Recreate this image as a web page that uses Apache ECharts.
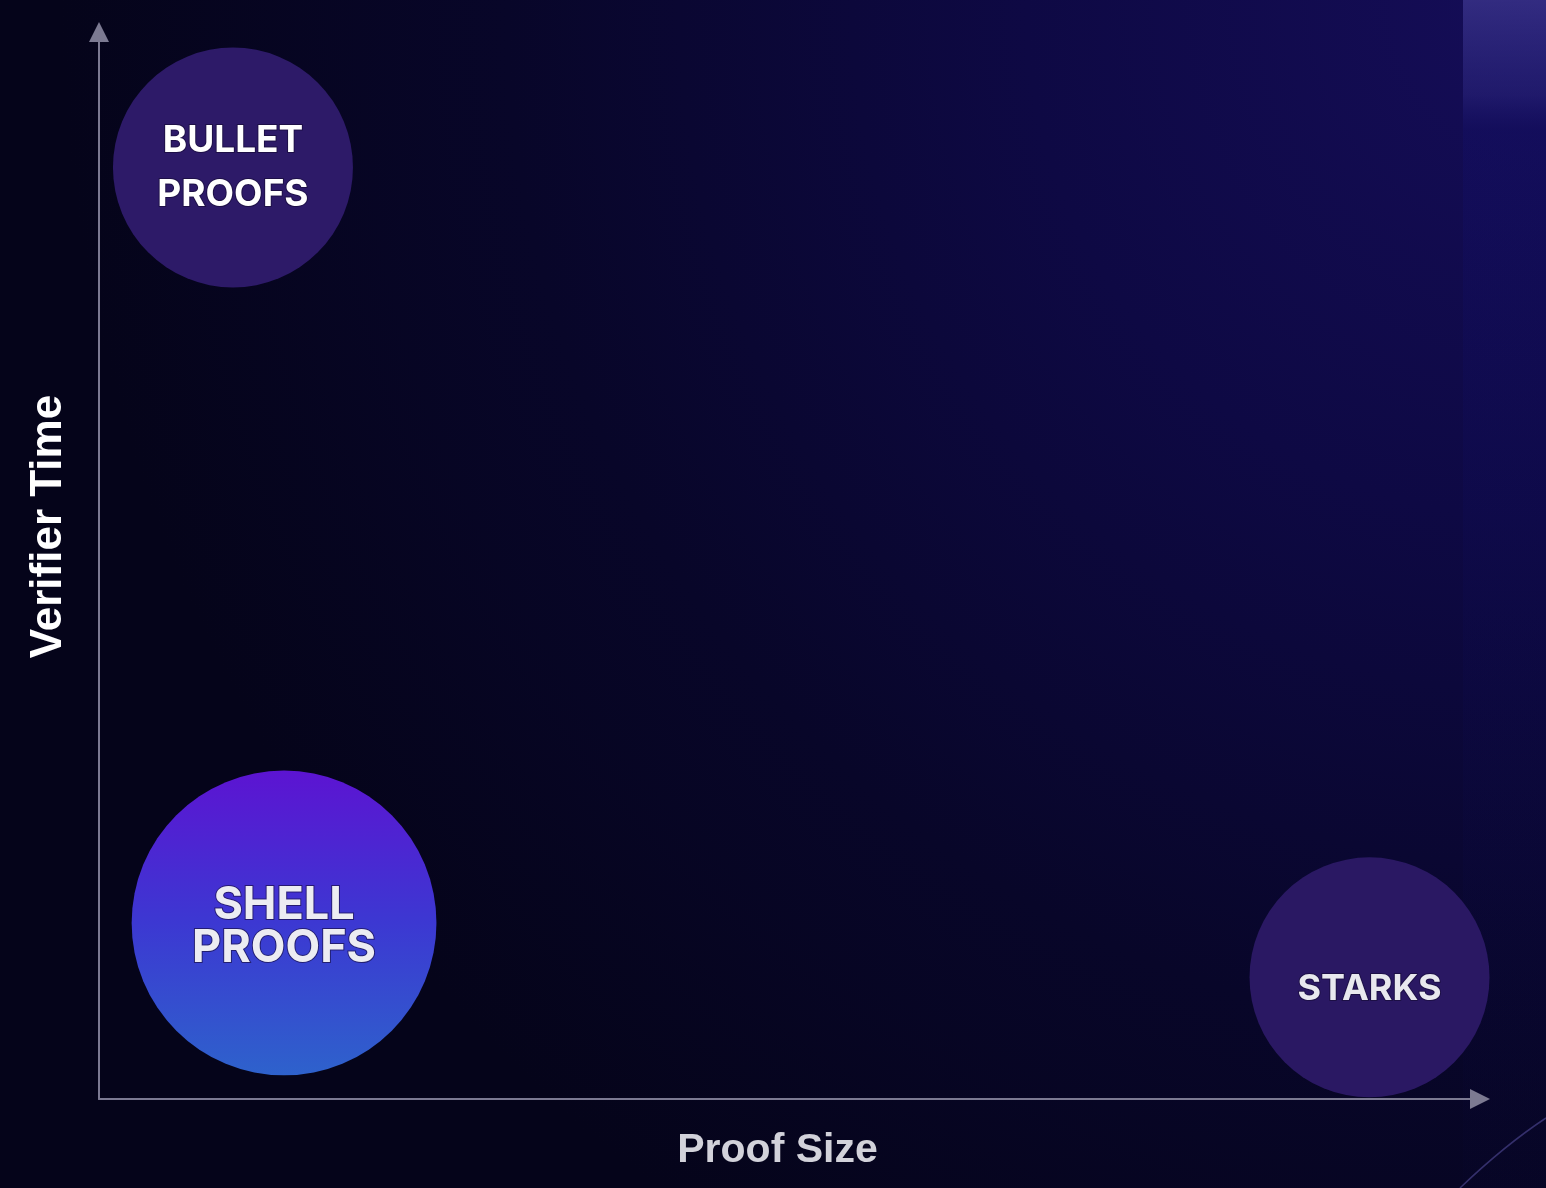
<!DOCTYPE html>
<html>
<head>
<meta charset="utf-8">
<script src="https://cdn.jsdelivr.net/npm/echarts@6/dist/echarts.min.js"></script>
<style>
  html, body { margin: 0; padding: 0; background: #05041a; }
  #chart { width: 1546px; height: 1188px; }
</style>
</head>
<body>
<div id="chart"></div>
<script>
// ---- data ----
const names = ['BULLET\nPROOFS', 'SHELL\nPROOFS', 'STARKS'];
const proofSize = [9.7, 13.4, 92.0];      // x: Proof Size (relative)
const verifierTime = [87.3, 16.5, 11.4];  // y: Verifier Time (relative)
const bubbleWeight = [100, 127, 100];     // relative bubble size
const xAxisName = 'Proof Size';
const yAxisName = 'Verifier Time';

// ---- styles ----
const fills = [
  '#2d1a68',
  { type: 'linear', x: 0, y: 0, x2: 0, y2: 1, colorStops: [
      { offset: 0, color: '#5c14d2' },
      { offset: 0.5, color: '#3c38d2' },
      { offset: 1, color: '#2e62cc' }
  ] },
  '#2a1863'
];
const labelStyles = [
  { fontSize: 37, lineHeight: 54, color: '#ffffff', offset: [0, 0] },
  { fontSize: 45, lineHeight: 43, color: '#ececf2', offset: [0, 4] },
  { fontSize: 36, lineHeight: 40, color: '#e8e8ee', offset: [0, 12] }
];

const data = names.map((n, i) => ({
  name: n,
  value: [proofSize[i], verifierTime[i], bubbleWeight[i]],
  itemStyle: { color: fills[i], opacity: 1 },
  label: {
    fontSize: labelStyles[i].fontSize,
    lineHeight: labelStyles[i].lineHeight,
    color: labelStyles[i].color,
    offset: labelStyles[i].offset
  }
}));

const chart = echarts.init(document.getElementById('chart'), null, { renderer: 'canvas' });

const axisLineStyle = { color: '#7c7a92', width: 2 };

chart.setOption({
  backgroundColor: 'transparent',
  animation: false,
  graphic: [
    {
      type: 'rect', z: -10, silent: true,
      shape: { x: 0, y: 0, width: 1546, height: 1188 },
      style: {
        fill: { type: 'radial', x: 1, y: 0, r: 1.25, colorStops: [
          { offset: 0, color: '#150d58' },
          { offset: 0.35, color: '#0e0944' },
          { offset: 0.7, color: '#080629' },
          { offset: 1, color: '#05041a' }
        ] }
      }
    },
    {
      type: 'rect', z: -9, silent: true,
      shape: { x: 1463, y: 0, width: 83, height: 1188 },
      style: {
        fill: { type: 'linear', x: 0, y: 0, x2: 0, y2: 1, colorStops: [
          { offset: 0, color: 'rgba(80,74,170,0.5)' },
          { offset: 0.08, color: 'rgba(60,56,160,0.3)' },
          { offset: 0.11, color: 'rgba(20,20,130,0.18)' },
          { offset: 1, color: 'rgba(10,10,70,0.05)' }
        ] }
      }
    },
    {
      type: 'bezierCurve', z: -8, silent: true,
      shape: { x1: 1546, y1: 1118, x2: 1460, y2: 1188, cpx1: 1505, cpy1: 1145 },
      style: { stroke: 'rgba(120,110,210,0.4)', lineWidth: 1.5, fill: null }
    }
  ],
  grid: { left: 99, right: 66, top: 32, bottom: 89, containLabel: false, outerBoundsMode: 'none' },
  xAxis: {
    type: 'value', min: 0, max: 100,
    name: xAxisName, nameLocation: 'middle', nameGap: 31,
    nameTextStyle: {
      fontFamily: 'Liberation Sans, Arial, sans-serif', fontWeight: 'bold',
      fontSize: 41, color: '#d2d2da', padding: [0, 24, 0, 0]
    },
    axisLine: { show: true, lineStyle: axisLineStyle, symbol: ['none', 'triangle'], symbolSize: [20, 20], onZero: false },
    axisTick: { show: false }, axisLabel: { show: false }, splitLine: { show: false }
  },
  yAxis: {
    type: 'value', min: 0, max: 100,
    name: yAxisName, nameLocation: 'middle', nameGap: 28, nameRotate: 90,
    nameTextStyle: {
      fontFamily: 'Liberation Sans, Arial, sans-serif', fontWeight: 'bold',
      fontSize: 44, color: '#ffffff', padding: [0, 0, 0, 78]
    },
    axisLine: { show: true, lineStyle: axisLineStyle, symbol: ['none', 'triangle'], symbolSize: [20, 20], onZero: false },
    axisTick: { show: false }, axisLabel: { show: false }, splitLine: { show: false }
  },
  series: [{
    type: 'scatter',
    data: data,
    symbol: 'circle',
    symbolSize: v => v[2] * 2.4,
    itemStyle: { opacity: 1 },
    label: {
      show: true, position: 'inside',
      formatter: p => p.name,
      fontFamily: 'Inter, Noto Sans, sans-serif', fontWeight: 'bold',
      textBorderColor: 'rgba(20,10,50,0.6)', textBorderWidth: 2
    },
    emphasis: { disabled: true }
  }]
});
</script>
</body>
</html>
